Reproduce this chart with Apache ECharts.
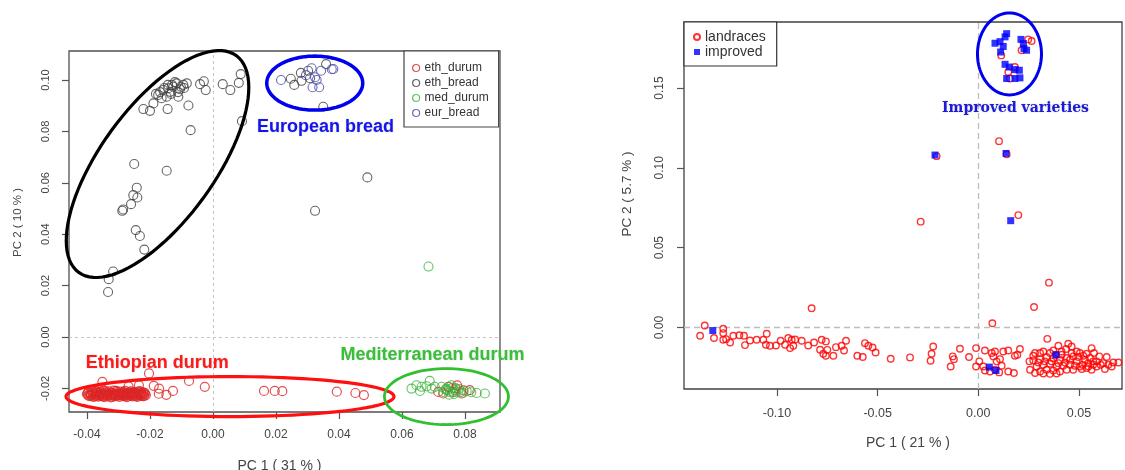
<!DOCTYPE html>
<html><head><meta charset="utf-8">
<script src="https://cdn.jsdelivr.net/npm/echarts@6/dist/echarts.min.js"></script>
<style>html,body{margin:0;padding:0;background:#fff}#c{width:1125px;height:470px}</style>
</head><body><div id="c"></div>
<script>
// ---------- tick labels ----------
const leftXTicks = [-0.04, -0.02, 0, 0.02, 0.04, 0.06, 0.08];
const leftYTicks = [-0.02, 0, 0.02, 0.04, 0.06, 0.08, 0.10];
const rightXTicks = [-0.10, -0.05, 0, 0.05];
const rightYTicks = [0, 0.05, 0.10, 0.15];

// ---------- left panel (PC1 31%, PC2 10%) ----------
const ethDurum = [
  [-0.0400,-0.0222],[-0.0395,-0.0215],[-0.0392,-0.0230],[-0.0388,-0.0224],[-0.0384,-0.0212],[-0.0380,-0.0233],
  [-0.0377,-0.0220],[-0.0373,-0.0227],[-0.0370,-0.0210],[-0.0367,-0.0218],[-0.0364,-0.0232],[-0.0360,-0.0224],
  [-0.0357,-0.0214],[-0.0354,-0.0229],[-0.0351,-0.0220],[-0.0348,-0.0208],[-0.0345,-0.0234],[-0.0342,-0.0225],
  [-0.0339,-0.0216],[-0.0336,-0.0230],[-0.0333,-0.0221],[-0.0330,-0.0212],[-0.0327,-0.0227],[-0.0324,-0.0235],
  [-0.0321,-0.0218],[-0.0318,-0.0225],[-0.0315,-0.0209],[-0.0312,-0.0231],[-0.0309,-0.0222],[-0.0306,-0.0215],
  [-0.0303,-0.0228],[-0.0300,-0.0220],[-0.0297,-0.0233],[-0.0294,-0.0213],[-0.0291,-0.0224],[-0.0288,-0.0218],
  [-0.0285,-0.0230],[-0.0282,-0.0221],[-0.0279,-0.0210],[-0.0276,-0.0226],[-0.0273,-0.0234],[-0.0270,-0.0217],
  [-0.0267,-0.0223],[-0.0264,-0.0229],[-0.0261,-0.0212],[-0.0258,-0.0220],[-0.0255,-0.0231],[-0.0252,-0.0224],
  [-0.0249,-0.0215],[-0.0246,-0.0227],[-0.0243,-0.0219],[-0.0240,-0.0233],[-0.0237,-0.0222],[-0.0234,-0.0211],
  [-0.0231,-0.0228],[-0.0228,-0.0220],[-0.0225,-0.0225],[-0.0222,-0.0216],[-0.0219,-0.0230],[-0.0216,-0.0222],
  [-0.0213,-0.0226],[-0.0398,-0.0218],[-0.0386,-0.0228],[-0.0371,-0.0223],[-0.0358,-0.0219],[-0.0343,-0.0220],
  [-0.0329,-0.0224],[-0.0316,-0.0219],[-0.0302,-0.0224],[-0.0289,-0.0227],[-0.0275,-0.0219],[-0.0262,-0.0224],
  [-0.0248,-0.0221],[-0.0235,-0.0226],[-0.0221,-0.0221],
  [-0.0396,-0.0227],[-0.0390,-0.0219],[-0.0382,-0.0222],[-0.0375,-0.0231],[-0.0369,-0.0214],[-0.0362,-0.0228],
  [-0.0355,-0.0222],[-0.0349,-0.0231],[-0.0341,-0.0212],[-0.0335,-0.0226],[-0.0326,-0.0219],[-0.0320,-0.0232],
  [-0.0313,-0.0224],[-0.0307,-0.0210],[-0.0298,-0.0227],[-0.0292,-0.0219],[-0.0284,-0.0214],[-0.0278,-0.0231],
  [-0.0271,-0.0222],[-0.0265,-0.0216],[-0.0257,-0.0228],[-0.0251,-0.0218],[-0.0244,-0.0230],[-0.0238,-0.0216],
  [-0.0230,-0.0222],[-0.0224,-0.0230],[-0.0217,-0.0217],[-0.0379,-0.0216],[-0.0347,-0.0226],[-0.0310,-0.0227],
  [-0.0281,-0.0225],[-0.0253,-0.0216],[-0.0229,-0.0214],
  [-0.0351,-0.0175],[-0.0203,-0.0142],[-0.0235,-0.0188],[-0.0188,-0.0190],[-0.0171,-0.0201],[-0.0172,-0.0221],
  [-0.0148,-0.0225],[-0.0127,-0.0210],[-0.0076,-0.0171],[-0.0026,-0.0194],[0.0162,-0.0210],[0.0196,-0.0210],
  [0.0220,-0.0211],[0.0393,-0.0213],[0.0452,-0.0218],[0.0479,-0.0226],[-0.0268,-0.0192],
  [0.0715,-0.0214],[0.0747,-0.0194],[0.0775,-0.0188],[0.0789,-0.0220],[0.0815,-0.0207],[0.0762,-0.0214],
  [0.0731,-0.0220],[0.0770,-0.0200],[0.0795,-0.0208]
];
const ethBread = [
  [0.0088,0.1023],[0.0082,0.0989],[0.0055,0.0961],[0.0031,0.0984],[-0.0029,0.0995],[-0.0041,0.0984],
  [-0.0023,0.0961],[-0.0078,0.0901],[-0.0071,0.0805],[0.0092,0.0840],[-0.0083,0.0987],[-0.0115,0.0987],
  [-0.0126,0.0974],[-0.0142,0.0968],[-0.0158,0.0961],[-0.0174,0.0942],[-0.0147,0.0935],[-0.0105,0.0964],
  [-0.0094,0.0981],[-0.0136,0.0954],[-0.0110,0.0935],[-0.0163,0.0929],[-0.0189,0.0909],[-0.0221,0.0887],
  [-0.0200,0.0880],[-0.0144,0.0887],[-0.0121,0.0992],[-0.0130,0.0981],[-0.0155,0.0969],[-0.0168,0.0953],
  [-0.0133,0.0946],[-0.0092,0.0969],[-0.0111,0.0953],[-0.0143,0.0981],[-0.0181,0.0946],[-0.0102,0.0974],
  [-0.0250,0.0673],[-0.0147,0.0647],[-0.0242,0.0581],[-0.0253,0.0552],[-0.0240,0.0543],[-0.0260,0.0517],
  [-0.0285,0.0496],[-0.0288,0.0491],[-0.0245,0.0416],[-0.0232,0.0393],[-0.0218,0.0340],[-0.0317,0.0255],
  [-0.0331,0.0225],[-0.0333,0.0175],[0.0324,0.0491],[0.0490,0.0621],
  [0.0247,0.1005],[0.0258,0.0981],[0.0279,0.1028],[0.0281,0.0997],[0.0302,0.1036],[0.0359,0.1062],
  [0.0350,0.0896],[0.0308,0.1007]
];
const medDurum = [
  [0.0630,-0.0201],[0.0646,-0.0188],[0.0662,-0.0194],[0.0657,-0.0210],[0.0688,-0.0171],[0.0694,-0.0201],
  [0.0678,-0.0192],[0.0704,-0.0194],[0.0726,-0.0194],[0.0741,-0.0201],[0.0757,-0.0188],[0.0768,-0.0207],
  [0.0805,-0.0210],[0.0837,-0.0218],[0.0863,-0.0220],[0.0731,-0.0214],[0.0752,-0.0214],[0.0745,-0.0208],
  [0.0760,-0.0198],[0.0772,-0.0215],[0.0781,-0.0203],[0.0738,-0.0205],[0.0765,-0.0222],[0.0785,-0.0214],
  [0.0750,-0.0225],[0.0795,-0.0217],[0.0820,-0.0215],[0.0684,0.0274]
];
const eurBread = [
  [0.0216,0.1000],[0.0313,0.1046],[0.0324,0.1011],[0.0329,0.1000],[0.0316,0.0972],[0.0337,0.0972],
  [0.0343,0.1036],[0.0377,0.1042],[0.0382,0.1043],[0.0295,0.1019]
];

// ---------- right panel (PC1 21%, PC2 5.7%) ----------
const landraces = [
  [0.0265,0.1794],[0.0248,0.1804],[0.0215,0.1736],[0.0114,0.1704],[0.0149,0.1600],[0.0182,0.1631],[0.0157,0.1559],
  [-0.0207,0.1073],[0.0103,0.1167],[0.0141,0.1085],[0.0199,0.0704],[-0.0286,0.0663],[0.0351,0.0281],
  [0.0277,0.0128],[0.0070,0.0027],[-0.0828,0.0121],
  [-0.1359,0.0013],[-0.1382,-0.0052],[-0.1313,-0.0066],[-0.1267,-0.0008],[-0.1267,-0.0035],
  [-0.1267,-0.0077],[-0.1253,-0.0073],[-0.1233,-0.0094],[-0.1217,-0.0052],[-0.1187,-0.0048],[-0.1164,-0.0052],
  [-0.1159,-0.0110],[-0.1134,-0.0081],[-0.1101,-0.0077],[-0.1068,-0.0077],[-0.1051,-0.0039],[-0.1055,-0.0108],
  [-0.1035,-0.0114],[-0.1005,-0.0113],[-0.0982,-0.0083],[-0.0960,-0.0108],[-0.0944,-0.0066],[-0.0927,-0.0077],
  [-0.0935,-0.0129],[-0.0919,-0.0114],[-0.0910,-0.0075],[-0.0877,-0.0083],[-0.0845,-0.0113],[-0.0816,-0.0094],
  [-0.0786,-0.0139],[-0.0778,-0.0077],[-0.0757,-0.0087],[-0.0770,-0.0164],[-0.0757,-0.0177],[-0.0750,-0.0140],
  [-0.0720,-0.0177],[-0.0707,-0.0123],[-0.0679,-0.0114],[-0.0667,-0.0144],[-0.0657,-0.0083],[-0.0601,-0.0177],
  [-0.0574,-0.0185],[-0.0563,-0.0098],[-0.0546,-0.0114],[-0.0525,-0.0125],[-0.0510,-0.0156],[-0.0435,-0.0196],
  [-0.0339,-0.0187],[-0.0237,-0.0208],[-0.0232,-0.0164],[-0.0224,-0.0119],
  [-0.0137,-0.0244],[-0.0127,-0.0181],[-0.0121,-0.0198],[-0.0091,-0.0133],[-0.0046,-0.0185],[-0.0011,-0.0129],
  [-0.0011,-0.0244],[0.0005,-0.0212],[0.0033,-0.0144],[0.0067,-0.0160],[0.0083,-0.0150],[0.0075,-0.0181],
  [0.0091,-0.0212],[0.0108,-0.0198],[0.0124,-0.0150],[0.0149,-0.0144],[0.0116,-0.0239],[0.0149,-0.0275],
  [0.0177,-0.0285],[0.0025,-0.0244],[0.0033,-0.0269],[0.0058,-0.0275],[0.0083,-0.0264],[0.0104,-0.0281],
  [0.0207,-0.0135],[0.0194,-0.0171],[0.0182,-0.0177],
  [0.0343,-0.0071],[0.0398,-0.0114],[0.0447,-0.0102],[0.0436,-0.0135],[0.0464,-0.0119],[0.0563,-0.0129],
  [0.0575,-0.0160],[0.0307,-0.0160],[0.0282,-0.0160],[0.0323,-0.0150],[0.0373,-0.0144],[0.0414,-0.0150],
  [0.0505,-0.0160],[0.0522,-0.0177],[0.0472,-0.0181],[0.0601,-0.0181],[0.0638,-0.0185],[0.0671,-0.0219],
  [0.0696,-0.0219],[0.0621,-0.0223],[0.0629,-0.0260],[0.0588,-0.0244],[0.0547,-0.0223],[0.0538,-0.0254],
  [0.0571,-0.0212],[0.0489,-0.0212],[0.0505,-0.0244],[0.0439,-0.0191],[0.0406,-0.0202],[0.0373,-0.0191],
  [0.0340,-0.0185],[0.0307,-0.0198],[0.0273,-0.0206],[0.0254,-0.0212],[0.0257,-0.0264],[0.0290,-0.0244],
  [0.0323,-0.0233],[0.0356,-0.0227],[0.0389,-0.0244],[0.0422,-0.0239],[0.0456,-0.0233],[0.0472,-0.0264],
  [0.0439,-0.0264],[0.0406,-0.0275],[0.0373,-0.0269],[0.0340,-0.0264],[0.0307,-0.0275],[0.0282,-0.0285],
  [0.0356,-0.0290],[0.0323,-0.0288],[0.0389,-0.0288],[0.0530,-0.0202],[0.0555,-0.0191],[0.0497,-0.0185],
  [0.0588,-0.0212],[0.0608,-0.0233],[0.0646,-0.0233],[0.0663,-0.0244],[0.0571,-0.0233],[0.0547,-0.0244],
  [0.0518,-0.0233],[0.0273,-0.0177],[0.0298,-0.0219],[0.0331,-0.0212],[0.0364,-0.0212],[0.0398,-0.0223],
  [0.0431,-0.0219],[0.0456,-0.0202],[0.0480,-0.0239],[0.0514,-0.0260],[0.0563,-0.0264],[0.0414,-0.0171],
  [0.0386,-0.0171],[0.0356,-0.0160],[0.0464,-0.0160],[0.0489,-0.0150],[0.0538,-0.0164]
];
const improved = [
  [0.0083,0.1780],[0.0108,0.1790],[0.0133,0.1820],[0.0141,0.1840],[0.0124,0.1760],[0.0111,0.1725],
  [0.0212,0.1804],[0.0224,0.1778],[0.0240,0.1736],[0.0227,0.1746],[0.0133,0.1648],[0.0154,0.1631],
  [0.0182,0.1615],[0.0204,0.1611],[0.0141,0.1559],[0.0182,0.1559],[0.0207,0.1563],
  [-0.0215,0.1080],[0.0138,0.1090],[0.0161,0.0669],[-0.1319,-0.0019],[0.0055,-0.0248],[0.0088,-0.0269],[0.0386,-0.0171]
];

// ---------- annotation anchors (data coordinates) ----------
const leftEllipseCenters = [[-0.0176,0.0673],[0.0323,0.0988],[0.0054,-0.0232],[0.0741,-0.0232]];
const leftTextAnchors = [[0.0357,0.0817],[-0.0177,-0.0100],[0.0697,-0.0071]];
const leftTexts = ['European bread','Ethiopian durum','Mediterranean durum'];
const rightEllipseCenters = [[0.0155,0.1713]];
const rightTextAnchors = [[0.0185,0.1371]];
const rightTexts = ['Improved varieties'];

// ---------- annotation styles ----------
const leftEllipseStyle = [
  {rx:134, ry:57, angle:54, color:'#000000', w:3.2},
  {rx:48, ry:27, angle:0, color:'#0000ee', w:3.5},
  {rx:164, ry:20, angle:0, color:'#ff1010', w:3.2},
  {rx:62, ry:28, angle:0, color:'#30c030', w:2.8}
];
const leftTextStyle = [
  {font:'bold 18px "Liberation Sans"', fill:'#1414ee'},
  {font:'bold 18px "Liberation Sans"', fill:'#ff1a1a'},
  {font:'bold 18px "Liberation Sans"', fill:'#38c038'}
];
const rightEllipseStyle = [{rx:32, ry:41, angle:0, color:'#0000ee', w:3}];
const rightTextStyle = [{font:'bold 14px "DejaVu Serif"', fill:'#1a1ad8'}];

function ellipseRenderer(styles){
  return function(params, api){
    const s = styles[params.dataIndex];
    const c = api.coord([api.value(0), api.value(1)]);
    const th = s.angle * Math.PI / 180, pts = [];
    for (let i = 0; i <= 96; i++) {
      const t = i / 96 * Math.PI * 2;
      const u = s.rx * Math.cos(t), v = s.ry * Math.sin(t);
      pts.push([c[0] + u*Math.cos(th) - v*Math.sin(th), c[1] - (u*Math.sin(th) + v*Math.cos(th))]);
    }
    return {type:'polygon', shape:{points:pts}, style:{fill:'none', stroke:s.color, lineWidth:s.w}};
  };
}
function textRenderer(texts, styles){
  return function(params, api){
    const s = styles[params.dataIndex];
    const c = api.coord([api.value(0), api.value(1)]);
    return {type:'text', x:c[0], y:c[1], style:{text:texts[params.dataIndex], font:s.font, fill:s.fill,
      align:'center', verticalAlign:'middle', textShadowColor:'rgba(0,0,0,0.18)', textShadowBlur:2}};
  };
}

const FONT = '"Liberation Sans", Arial, sans-serif';
const fmt = v => v.toFixed(2);

function axisCommon(ticks, fontSize, margin, rotate){
  return {
    axisLine:{show:false, onZero:false},
    splitLine:{show:false},
    axisTick:{show:true, inside:false, customValues:ticks, length:7, lineStyle:{color:'#555', width:1.2}},
    axisLabel:{show:true, customValues:ticks, formatter:fmt, fontSize:fontSize, color:'#444',
      fontFamily:FONT, margin:margin, rotate:rotate||0}
  };
}

const hollow = (c, w) => ({color:'rgba(0,0,0,0)', borderColor:c, borderWidth:w});

const option = {
  animation:false,
  backgroundColor:'#fff',
  grid:[
    {left:69, top:51, width:431, height:361, show:true, borderColor:'#505050', borderWidth:1.3,
      backgroundColor:'transparent', outerBoundsMode:'none', containLabel:false},
    {left:684, top:22, width:438, height:367, show:true, borderColor:'#404040', borderWidth:1.3,
      backgroundColor:'transparent', outerBoundsMode:'none', containLabel:false}
  ],
  xAxis:[
    Object.assign({type:'value', gridIndex:0, min:-0.0457, max:0.0911, name:'PC 1 ( 31 % )', nameLocation:'middle', nameGap:47,
      nameTextStyle:{fontSize:14, color:'#444', fontFamily:FONT, padding:[0,10,0,0]}}, axisCommon(leftXTicks, 12, 17)),
    Object.assign({type:'value', gridIndex:1, min:-0.1462, max:0.0714, name:'PC 1 ( 21 % )', nameLocation:'middle', nameGap:47,
      nameTextStyle:{fontSize:14, color:'#444', fontFamily:FONT, padding:[0,0,0,10]}}, axisCommon(rightXTicks, 12.5, 18))
  ],
  yAxis:[
    Object.assign({type:'value', gridIndex:0, min:-0.0292, max:0.1113, name:'PC 2 ( 10 % )', nameLocation:'middle', nameGap:45,
      nameTextStyle:{fontSize:11.5, color:'#444', fontFamily:FONT, padding:[0,0,0,18]}}, axisCommon(leftYTicks, 11, 18, 90)),
    Object.assign({type:'value', gridIndex:1, min:-0.0385, max:0.1913, name:'PC 2 ( 5.7 % )', nameLocation:'middle', nameGap:50,
      nameTextStyle:{fontSize:13.5, color:'#444', fontFamily:FONT, padding:[0,0,0,23]}}, axisCommon(rightYTicks, 12, 18, 90))
  ],
  legend:[
    {data:['eth_durum','eth_bread','med_durum','eur_bread'], orient:'vertical', left:404, top:51,
      itemWidth:7, itemHeight:7, itemGap:3, itemTextGap:7, padding:[11,10,8,8],
      borderColor:'#444', borderWidth:1.2, backgroundColor:'#fff', selectedMode:false,
      itemStyle:{borderWidth:1.2},
      textStyle:{fontSize:12, color:'#333', fontFamily:FONT}},
    {data:['landraces','improved'], orient:'vertical', left:684, top:22,
      itemWidth:6, itemHeight:6, itemGap:1, itemTextGap:8, padding:[8,11,7,9],
      borderColor:'#333', borderWidth:1.2, backgroundColor:'#fff', selectedMode:false,
      textStyle:{fontSize:14, color:'#333', fontFamily:FONT}}
  ],
  series:[
    {name:'eth_durum', type:'scatter', xAxisIndex:0, yAxisIndex:0, data:ethDurum, symbol:'circle', symbolSize:9,
      itemStyle:hollow('#dc2626',1.2), emphasis:{disabled:true},
      markLine:{silent:true, symbol:['none','none'], label:{show:false}, animation:false,
        lineStyle:{type:[3,3], color:'#c4c4c4', width:1}, data:[{xAxis:0},{yAxis:0}], z:1}},
    {name:'eth_bread', type:'scatter', xAxisIndex:0, yAxisIndex:0, data:ethBread, symbol:'circle', symbolSize:9,
      itemStyle:hollow('#404040',1.1), emphasis:{disabled:true}},
    {name:'med_durum', type:'scatter', xAxisIndex:0, yAxisIndex:0, data:medDurum, symbol:'circle', symbolSize:9,
      itemStyle:hollow('#3cb43c',1.1), emphasis:{disabled:true}},
    {name:'eur_bread', type:'scatter', xAxisIndex:0, yAxisIndex:0, data:eurBread, symbol:'circle', symbolSize:9,
      itemStyle:hollow('#4848a8',1.1), emphasis:{disabled:true}},
    {name:'landraces', type:'scatter', xAxisIndex:1, yAxisIndex:1, data:landraces, symbol:'circle', symbolSize:6.5,
      itemStyle:hollow('#ff0000',1.4), emphasis:{disabled:true},
      markLine:{silent:true, symbol:['none','none'], label:{show:false}, animation:false,
        lineStyle:{type:[6,4], color:'#bdbdbd', width:1.3}, data:[{xAxis:0},{yAxis:0}], z:1}},
    {name:'improved', type:'scatter', xAxisIndex:1, yAxisIndex:1, data:improved, symbol:'rect', symbolSize:7,
      itemStyle:{color:'#0000ff'}, emphasis:{disabled:true}},
    {type:'custom', xAxisIndex:0, yAxisIndex:0, data:leftEllipseCenters, renderItem:ellipseRenderer(leftEllipseStyle), clip:false, silent:true, z:5},
    {type:'custom', xAxisIndex:0, yAxisIndex:0, data:leftTextAnchors, renderItem:textRenderer(leftTexts, leftTextStyle), clip:false, silent:true, z:6},
    {type:'custom', xAxisIndex:1, yAxisIndex:1, data:rightEllipseCenters, renderItem:ellipseRenderer(rightEllipseStyle), clip:false, silent:true, z:5},
    {type:'custom', xAxisIndex:1, yAxisIndex:1, data:rightTextAnchors, renderItem:textRenderer(rightTexts, rightTextStyle), clip:false, silent:true, z:6}
  ]
};
const chart = echarts.init(document.getElementById('c'));
chart.setOption(option);
</script></body></html>
